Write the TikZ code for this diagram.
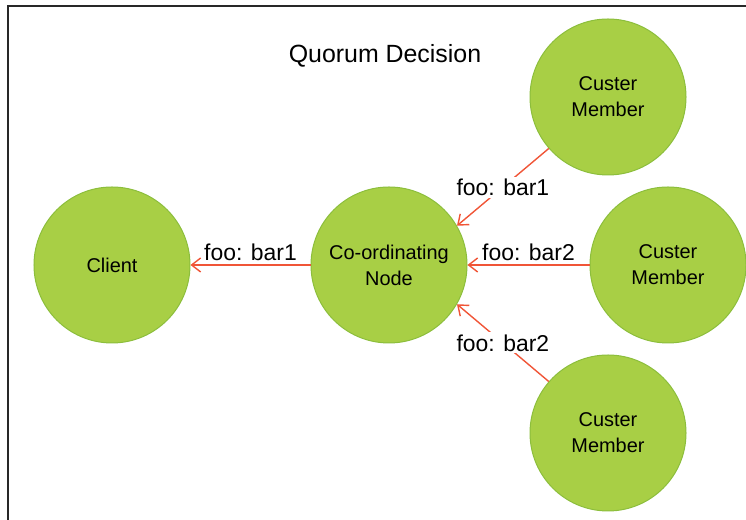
\documentclass[tikz,border=0pt]{standalone}
\usepackage{fontspec}
\setmainfont{Liberation Sans}
\usetikzlibrary{arrows.meta,positioning}
\definecolor{leafgreen}{RGB}{168,207,69}
\definecolor{leafedge}{RGB}{140,190,60}
\definecolor{msgred}{RGB}{240,85,55}
\definecolor{framegray}{RGB}{40,40,40}

\begin{document}
\begin{tikzpicture}[x=1bp,y=1bp,
    member/.style={circle, draw=leafedge, line width=1bp, fill=leafgreen,
                   minimum size=156bp, inner sep=0pt, align=center,
                   font=\fontsize{20}{26}\selectfont},
    msg/.style={draw=msgred, line width=1.4bp, -{Straight Barb[length=9bp,width=14bp]}},
    msglabel/.style={font=\fontsize{23}{28}\selectfont, inner sep=2bp}]
    \useasboundingbox (0,0) rectangle (746,520);
    % frame, cut off on the right and at the bottom
    \draw[framegray, line width=1.6bp] (746,514) -- (8,514) -- (8,0);
    \node[font=\fontsize{25}{30}\selectfont] (title) at (385,464) {Quorum Decision};
    \node[member] (coord) at (389,255) {Co-ordinating\\Node};
    \node[member, left=120bp of coord] (client) {Client};
    \node[member, right=122bp of coord] (right) {Custer\\Member};
    \node[member] (top) at (608,423) {Custer\\Member};
    \node[member] (bottom) at (608,87) {Custer\\Member};
    % messages
    \draw[msg] (coord) -- node[msglabel, above=2bp] {foo: bar1} (client);
    \draw[msg] (right) -- node[msglabel, above=2bp] {foo: bar2} (coord);
    \draw[msg] (top.221) -- node[msglabel, fill=white] {foo: bar1} (coord.30);
    \draw[msg] (bottom.139) -- node[msglabel, fill=white] {foo: bar2} (coord.-30);
\end{tikzpicture}
\end{document}
